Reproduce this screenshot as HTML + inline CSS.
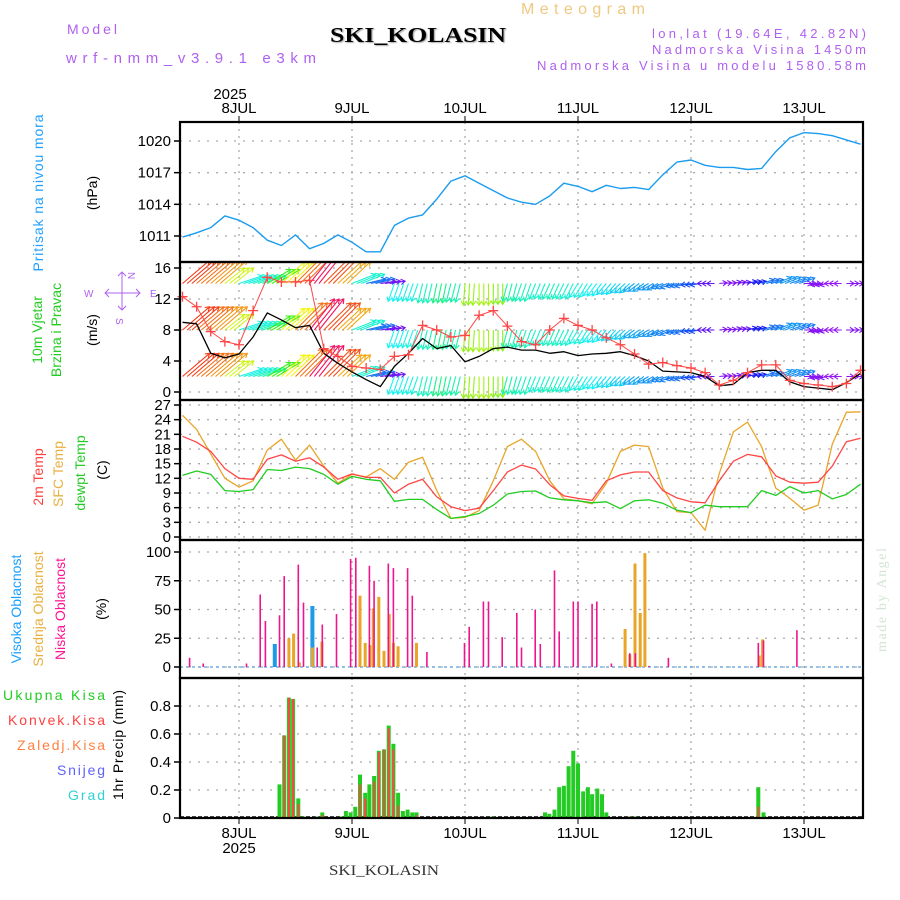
<!DOCTYPE html>
<html><head><meta charset="utf-8"><style>
html,body{margin:0;padding:0;background:#fff;}
svg{display:block;font-family:"Liberation Sans",sans-serif;}
</style></head><body>
<svg id="chart" width="900" height="900" viewBox="0 0 900 900" xmlns="http://www.w3.org/2000/svg">
<defs>
<clipPath id="cw"><rect x="181" y="263" width="681" height="136"/></clipPath>
</defs>
<rect x="0" y="0" width="900" height="900" fill="#fff"/>
<g id="hdr">
<text x="67" y="34" font-size="14" fill="#b060f0" textLength="50" lengthAdjust="spacing">Model</text>
<text x="66" y="63" font-size="15" fill="#b060f0" textLength="250" lengthAdjust="spacing">wrf-nmm_v3.9.1 e3km</text>
<text x="330" y="42" font-family="Liberation Serif,serif" font-weight="bold" font-size="21" fill="#000" textLength="176" lengthAdjust="spacingAndGlyphs" style="text-shadow:1px 1px 1px #aaa">SKI_KOLASIN</text>
<text x="521" y="14" font-size="16" fill="#f0c880" textLength="124" lengthAdjust="spacing">Meteogram</text>
<text x="866" y="38" font-size="13" fill="#b060f0" text-anchor="end" textLength="214" lengthAdjust="spacing">lon,lat (19.64E, 42.82N)</text>
<text x="866" y="54" font-size="13" fill="#b060f0" text-anchor="end" textLength="214" lengthAdjust="spacing">Nadmorska Visina 1450m</text>
<text x="866" y="70" font-size="13" fill="#b060f0" text-anchor="end" textLength="329" lengthAdjust="spacing">Nadmorska Visina u modelu 1580.58m</text>
<text x="329" y="875" font-family="Liberation Serif,serif" font-size="15" fill="#333" textLength="110" lengthAdjust="spacingAndGlyphs">SKI_KOLASIN</text>
<text transform="translate(886,652) rotate(-90)" font-family="Liberation Serif,serif" font-size="14" fill="#d4e4d4" textLength="104" lengthAdjust="spacing">made by Angel</text>
</g>
<g id="labels" font-size="14">
<text transform="translate(43,193) rotate(-90)" text-anchor="middle" fill="#20a0ff" textLength="157" lengthAdjust="spacing">Pritisak na nivou mora</text>
<text transform="translate(97,193) rotate(-90)" text-anchor="middle" fill="#000">(hPa)</text>
<text transform="translate(42,330) rotate(-90)" text-anchor="middle" fill="#22cc22">10m Vjetar</text>
<text transform="translate(61,330) rotate(-90)" text-anchor="middle" fill="#22cc22">Brzina i Pravac</text>
<text transform="translate(97,330) rotate(-90)" text-anchor="middle" fill="#000">(m/s)</text>
<text transform="translate(43,477) rotate(-90)" text-anchor="middle" fill="#ff4040">2m Temp</text>
<text transform="translate(63,474) rotate(-90)" text-anchor="middle" fill="#e8b040">SFC Temp</text>
<text transform="translate(85,473) rotate(-90)" text-anchor="middle" fill="#22cc22">dewpt Temp</text>
<text transform="translate(107,470) rotate(-90)" text-anchor="middle" fill="#000">(C)</text>
<text transform="translate(21,609) rotate(-90)" text-anchor="middle" fill="#18a0ff">Visoka Oblacnost</text>
<text transform="translate(43,609) rotate(-90)" text-anchor="middle" fill="#e8b040">Srednja Oblacnost</text>
<text transform="translate(65,609) rotate(-90)" text-anchor="middle" fill="#ff1493">Niska Oblacnost</text>
<text transform="translate(106,609) rotate(-90)" text-anchor="middle" fill="#000">(%)</text>
<text transform="translate(123,745) rotate(-90)" text-anchor="middle" fill="#000" textLength="110" lengthAdjust="spacing">1hr Precip (mm)</text>
<text x="105" y="700" text-anchor="end" fill="#22cc22" textLength="102" lengthAdjust="spacing">Ukupna Kisa</text>
<text x="105" y="725" text-anchor="end" fill="#ff4040" textLength="97" lengthAdjust="spacing">Konvek.Kisa</text>
<text x="105" y="750" text-anchor="end" fill="#ff8040" textLength="88" lengthAdjust="spacing">Zaledj.Kisa</text>
<text x="105" y="775" text-anchor="end" fill="#6060ff" textLength="48" lengthAdjust="spacing">Snijeg</text>
<text x="105" y="800" text-anchor="end" fill="#30d0d0" textLength="37" lengthAdjust="spacing">Grad</text>
</g>
<g id="compass" stroke="#b060f0" fill="none" stroke-width="1">
<line x1="122" y1="272" x2="122" y2="310"/>
<line x1="105" y1="293" x2="140" y2="293"/>
<polyline points="118,276 122,272 126,276"/>
<polyline points="118,306 122,310 126,306"/>
<polyline points="109,289 105,293 109,297"/>
<polyline points="136,289 140,293 136,297"/>
<text x="128" y="272" font-size="10" fill="#b060f0" stroke="none" transform="rotate(90 128 272)">N</text>
<text x="116" y="318" font-size="10" fill="#b060f0" stroke="none" transform="rotate(90 116 318)">S</text>
<text x="84" y="297" font-size="10" fill="#b060f0" stroke="none">W</text>
<text x="150" y="297" font-size="10" fill="#b060f0" stroke="none">E</text>
</g>
<g id="plot"></g>
</svg>
<script>
// ---------- data ----------
// 3-hourly grid starting 7JUL 12UTC (hours relative to 8JUL 00UTC)
const gridStartHour = -12;
const gridStepHours = 3;
const pressure = [1010.9,1011.3,1011.8,1012.9,1012.5,1011.8,1010.6,1010.1,1011.1,1009.8,1010.3,1011.1,1010.4,1009.5,1009.5,1012,1012.7,1013,1014.5,1016.2,1016.7,1016,1015.3,1014.6,1014.2,1014,1014.8,1016,1015.7,1015.2,1015.8,1015.5,1015.6,1015.4,1016.8,1018,1018.2,1017.7,1017.5,1017.5,1017.3,1017.4,1019,1020.3,1020.8,1020.7,1020.5,1020.1,1019.7];
const windSpeed = [9,8.8,5,4.4,4.9,7.1,10.2,9.3,8.3,8.6,5,3.7,2.6,1.6,0.7,3.3,5,6.9,5.6,6,3.9,4.6,5.6,5.8,5.4,5.4,5,5.2,4.7,4.9,5,5.2,4.7,4,2.7,2.6,2.5,2,0.8,1,2.5,2.8,2.8,1.3,0.7,0.5,0.3,1.2,2.4];
const windGust = [12.3,11,7.8,6.5,6.1,10.5,14.8,14.2,14.2,14.4,5.6,4.6,3.3,3.1,2.9,4.6,4.8,8.6,8,7.1,7.3,9.9,10.5,8.5,6.5,6.1,8,9.5,8.6,8,7,6.1,4.9,3.6,3.8,3.4,3.1,2.5,0.9,1.5,2.5,3.5,3.5,1.5,1.1,0.9,0.7,1.1,2.8];
const windU = [3.5,3.5,3.5,2.5,3,3,3,3,3.5,3.2,3.5,3,3,2.5,2,-0.8,-0.8,-0.6,-0.5,-0.6,-0.2,0,0,-0.6,-0.8,-0.8,-0.9,-1,-1.1,-1.2,-1.2,-1.3,-1.4,-1.4,-1.5,-1.4,-1.3,-1,1,1,1.2,1.6,2,2,1,-1,-1,1,1];
const windV = [3,3,3,2,1,1,1.8,2.8,3.5,4,3.5,2.8,1.2,0.6,0.3,-2.3,-2.3,-2.5,-2.5,-2.4,-2.8,-2.8,-2.7,-2.3,-2.3,-2,-2,-2,-1.8,-1.6,-1.4,-1.2,-1,-0.8,-0.6,-0.4,-0.2,0,0.1,0.2,0.3,0.5,0.8,0.7,0,-0.2,0,0,0.1];
const windHue = [10,25,35,70,175,165,110,60,25,340,15,40,170,215,265,180,175,165,150,160,85,80,90,160,165,170,165,170,175,180,185,190,200,205,210,215,225,260,270,265,240,215,205,210,270,270,275,270,270];
const windRows = [2,8,14];
const temp2m = [20.6,19.4,17.5,14,12,11.8,15.9,16.8,15.5,16.2,14.3,11.8,12.9,12.2,12.2,9,10.8,11.8,8.2,6.2,5.4,5.9,9.5,13.3,14.7,13.9,10.7,8.4,7.9,7.5,11.5,12.7,13.3,13.3,9.5,8,7.2,7,11.5,15.5,16.9,16.4,12.5,11.2,11,11.2,14.5,19.5,20.2];
const tempSfc = [24.9,22,17,12,10.2,11.5,17.8,20,15.7,18.8,14.5,11,12.8,12.3,14,11.8,15.3,16.3,9.5,3.8,4,5.4,11.5,18.5,20,17.5,11.5,7.8,7.4,6.8,11,17.5,18.8,18.5,10,5.2,5,1.4,13,21.5,23.5,18.5,10,7.9,5.5,6.5,19,25.5,25.6];
const dewpoint = [12.6,13.5,12.8,9.5,9.3,9.7,13.8,13.6,14.3,14,12.8,10.8,12.4,11.8,11.5,7.3,7.7,7.7,5.6,3.8,4.2,4.8,6.5,8.8,9.3,9.4,8,7.6,7.4,7,7.2,5.8,7.4,7.6,6.9,5.5,5,6.5,6.2,6.2,6.2,9.5,8.5,10.3,9,9.5,7.8,8.7,10.8];
// clouds (hours relative to 8JUL 00UTC, percent)
const lowCloudHours = [-10.5,-7.6,1.6,4.5,5.6,8.6,9.6,12.6,13.7,16.6,17.7,20.7,23.7,24.8,27.7,28.7,31.7,32.8,35.8,36.8,39.9,47.9,48.9,51.9,53,55.9,59,60,62.9,64,67,68,71,72,75,76,79.1,83,84.2,87.1,91.2,110.3,111.4,118.5];
const lowCloud = [8,3,3,63,40,45,79,89,56,17,37,46,94,95,88,75,90,86,86,62,13,21,35,57,57,26,47,17,50,20,84,31,57,57,55,57,3,12,12,1,8,21,23,32];
const midCloudHours = [10.6,11.6,12.8,15.6,17.6,25.7,26.8,27.8,28.5,29.7,30.8,31.9,32.8,33.8,37.7,82,83,84.1,85.2,86.2,110.5,111.2];
const midCloud = [25,29,4,17,22,62,21,19,51,61,14,46,21,18,21,33,11,90,47,99,10,24];
const highCloudHours = [7.6,15.6];
const highCloud = [20,53];
// precipitation
const precipHours = [8.6,9.6,10.6,11.5,12.6,13.7,16.6,17.7,21.8,22.7,23.7,24.7,25.7,26.8,27.7,28.7,29.7,30.8,31.8,32.8,33.8,34.8,35.8,36.8,37.7,53.9,65,65.9,67,68,69,70,71,72,73.1,74.1,75,76.1,77.1,78,83,84.1,110.3,111.4];
const precipTotal = [0.24,0.59,0.86,0.85,0.14,0.01,0.01,0.04,0.01,0.05,0.04,0.08,0.31,0.18,0.24,0.3,0.48,0.49,0.66,0.53,0.18,0.05,0.06,0.04,0.04,0.01,0.04,0.03,0.06,0.22,0.23,0.37,0.48,0.39,0.19,0.22,0.17,0.21,0.17,0.04,0.01,0.01,0.22,0.04];
const precipConv = [0,0.59,0.86,0.85,0.1,0,0,0.02,0,0,0,0,0.24,0.14,0,0.26,0.47,0.49,0.64,0.49,0.09,0,0,0,0.02,0,0,0,0,0,0,0,0,0,0,0,0,0,0,0,0.01,0,0.08,0];
// axes
const dayLabels = ["8JUL","9JUL","10JUL","11JUL","12JUL","13JUL"];
const dayHours = [0,24,48,72,96,120];
const pTicks = [1011,1014,1017,1020];
const wTicks = [0,4,8,12,16];
const tTicks = [0,3,6,9,12,15,18,21,24,27];
const cTicks = [0,25,50,75,100];
const rTicks = [0,0.2,0.4,0.6,0.8];
const rTickLabels = ["0","0.2","0.4","0.6","0.8"];

// ---------- scales ----------
const X = h => 239 + h*113/24;
const yP = v => 141 + (1020 - v)*95/9;
const yW = v => 392 - v*7.75;
const yT = v => 537 - v*4.889;
const yC = v => 667 - v*1.15;
const yR = v => 818 - v*140;
const gx = i => X(gridStartHour + i*gridStepHours);
const L = 180, R = 863;

const NS = "http://www.w3.org/2000/svg";
const plot = document.getElementById("plot");
function mk(tag, attrs, parent){
  const e = document.createElementNS(NS, tag);
  for (const k in attrs) e.setAttribute(k, attrs[k]);
  (parent||plot).appendChild(e);
  return e;
}
function grp(name){
  const g = document.createElementNS(NS,"g");
  
  
  plot.appendChild(g);
  return g;
}

const panels = [
  {name:"pressure", top:122, bot:262, ticks:pTicks, labels:pTicks.map(String), y:yP},
  {name:"wind", top:262, bot:400, ticks:wTicks, labels:wTicks.map(String), y:yW},
  {name:"temperature", top:400, bot:540, ticks:tTicks, labels:tTicks.map(String), y:yT},
  {name:"cloud", top:540, bot:678, ticks:cTicks, labels:cTicks.map(String), y:yC},
  {name:"precip", top:678, bot:818, ticks:rTicks, labels:rTickLabels, y:yR}
];

// grids
panels.forEach(p => {
  const g = grp(p.name + "-grid");
  p.ticks.forEach((t,i) => {
    const y = p.y(t);
    const gl = mk("line",{x1:L,x2:R,y1:y,y2:y,stroke:"#aaa","stroke-width":1.3,"stroke-dasharray":"2,7"},g);
    
    
    const tk = mk("line",{x1:L-6,x2:L,y1:y,y2:y,stroke:"#000","stroke-width":1.5},g);
    
    
    const tx = mk("text",{x:L-9,y:y+5,"text-anchor":"end","font-size":15,fill:"#000"},g);
    tx.textContent = p.labels[i];
    
    
  });
  dayHours.forEach(h => {
    const vl = mk("line",{x1:X(h),x2:X(h),y1:p.top,y2:p.bot,stroke:"#aaa","stroke-width":1.3,"stroke-dasharray":"2,5"},g);
    
    
  });
});

// date labels
const dl = grp("date-labels");
dayHours.forEach((h,i) => {
  const t1 = mk("text",{x:X(h),y:113,"text-anchor":"middle","font-size":15,fill:"#000"},dl);
  t1.textContent = dayLabels[i];
  
  
  const t2 = mk("text",{x:X(h),y:838,"text-anchor":"middle","font-size":15,fill:"#000"},dl);
  t2.textContent = dayLabels[i];
  
  
  const k1 = mk("line",{x1:X(h),x2:X(h),y1:116,y2:122,stroke:"#000"},dl);
  
  
  const k2 = mk("line",{x1:X(h),x2:X(h),y1:818,y2:824,stroke:"#000"},dl);
  
  
});
const yr1 = mk("text",{x:X(0)-9,y:99,"text-anchor":"middle","font-size":15,fill:"#000"},dl);
yr1.textContent = "2025";


const yr2 = mk("text",{x:X(0),y:853,"text-anchor":"middle","font-size":15,fill:"#000"},dl);
yr2.textContent = "2025";



function line(arr, yf, color, name, w){
  const pts = arr.map((v,i) => gx(i).toFixed(1)+","+yf(v).toFixed(1)).join(" ");
  const pl = mk("polyline",{points:pts,fill:"none",stroke:color,"stroke-width":w||1.3,"stroke-linejoin":"round"});
  
  
  return pl;
}

// pressure
line(pressure, yP, "#1a9cf0", "pressure-line", 1.4);

// wind arrows
const wg = grp("wind-arrows");
wg.setAttribute("clip-path","url(#cw)");
windU.forEach((u,i) => {
  const v = windV[i];
  const col = "hsl(" + windHue[i] + ",90%,52%)";
  for (let k=0;k<3;k++){
    const x0 = X(gridStartHour + i*gridStepHours + k);
    windRows.forEach(lv => {
      const y0 = yW(lv);
      const x1 = x0 + u*7.75, y1 = y0 - v*7.75;
      const ang = Math.atan2(y1-y0, x1-x0);
      const hl = 5;
      const a1 = ang + Math.PI*0.82, a2 = ang - Math.PI*0.82;
      const ar = mk("path",{d:`M${x0.toFixed(1)},${y0.toFixed(1)}L${x1.toFixed(1)},${y1.toFixed(1)}M${(x1+hl*Math.cos(a1)).toFixed(1)},${(y1+hl*Math.sin(a1)).toFixed(1)}L${x1.toFixed(1)},${y1.toFixed(1)}L${(x1+hl*Math.cos(a2)).toFixed(1)},${(y1+hl*Math.sin(a2)).toFixed(1)}`,stroke:col,"stroke-width":1.1,fill:"none"},wg);
      
      
    });
  }
});
// wind speed & gust
const sl = line(windSpeed, yW, "#000", "wind-speed-line", 1.3);
const gl = line(windGust, yW, "#ff4545", "wind-gust-line", 1);
sl.setAttribute("clip-path","url(#cw)");
const gg = grp("wind-gust-markers");
windGust.forEach((v,i) => {
  const x = gx(i), y = yW(v);
  const m = mk("path",{d:`M${x-5},${y}H${x+5}M${x},${y-5}V${y+5}`,stroke:"#ff4545","stroke-width":1.3},gg);
  
  
});

// temperatures
line(tempSfc, yT, "#e8a528", "sfc-temp-line", 1.3);
line(temp2m, yT, "#ff4545", "temp-2m-line", 1.3);
line(dewpoint, yT, "#22cc22", "dewpoint-line", 1.3);

// clouds
const cg = grp("cloud-bars");
const cb = mk("line",{x1:L,x2:R,y1:yC(0),y2:yC(0),stroke:"#5aa0e0","stroke-width":1.2,"stroke-dasharray":"3,3"},cg);


function bars(hours, vals, yf, color, w, name, g){
  hours.forEach((h,i) => {
    if (vals[i] <= 0) return;
    const x = X(h), y = yf(vals[i]);
    const r = mk("rect",{x:(x-w/2).toFixed(1),y:y.toFixed(1),width:w,height:(yf(0)-y).toFixed(1),fill:color},g);
    
    
  });
}
bars(highCloudHours, highCloud, yC, "#1e9be8", 4, "high-cloud-bar", cg);
bars(midCloudHours, midCloud, yC, "#e8a528", 3, "mid-cloud-bar", cg);
bars(lowCloudHours, lowCloud, yC, "#f0148c", 1.6, "low-cloud-bar", cg);

// precip
const pg = grp("precip-bars");
const pb = mk("line",{x1:L,x2:R,y1:yR(0)-1,y2:yR(0)-1,stroke:"#000","stroke-width":1.5,"stroke-dasharray":"4,2"},pg);


bars(precipHours, precipTotal, yR, "#22cc22", 4, "total-precip-bar", pg);
bars(precipHours, precipConv, yR, "#ff4545", 2, "convective-precip-bar", pg);

// panel frames
panels.forEach(p => {
  const f = mk("rect",{x:L,y:p.top,width:R-L,height:p.bot-p.top,fill:"none",stroke:"#000","stroke-width":2.2});
  
  
});
</script>
</body></html>
